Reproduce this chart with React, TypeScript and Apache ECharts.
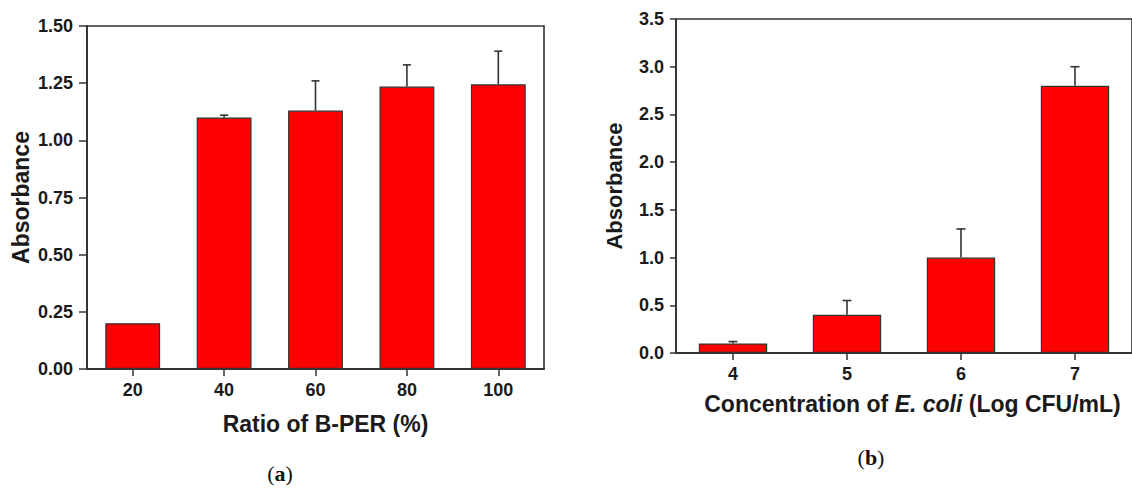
import React, { useEffect, useRef } from "react";
import * as echarts from "echarts";

const catA = ["20", "40", "60", "80", "100"];
const valA = [0.2, 1.1, 1.13, 1.235, 1.245];
const errA = [0, 0.01, 0.13, 0.095, 0.145];

const catB = ["4", "5", "6", "7"];
const valB = [0.1, 0.4, 1.0, 2.8];
const errB = [0.02, 0.15, 0.3, 0.2];

const FONT = "'Liberation Sans', Arial, sans-serif";
const AX = "#333333";
const TXT = "#1a1a1a";

function errRender(cap: number) {
  return (params: any, api: any) => {
    const i = api.value(0);
    const v = api.value(1);
    const e = api.value(2);
    if (!e) return { type: "group", children: [] };
    const base = api.coord([i, v]);
    const top = api.coord([i, v + e]);
    const style = { stroke: AX, lineWidth: 1.6 };
    return {
      type: "group",
      children: [
        { type: "line", shape: { x1: base[0], y1: base[1], x2: base[0], y2: top[1] }, style },
        { type: "line", shape: { x1: base[0] - cap / 2, y1: top[1], x2: base[0] + cap / 2, y2: top[1] }, style },
      ],
    };
  };
}

export default function App() {
  const ref = useRef<HTMLDivElement>(null);
  useEffect(() => {
    if (!ref.current) return;
    const chart = echarts.init(ref.current, undefined, { renderer: "svg" });
    const axisLine = { show: true, lineStyle: { color: AX, width: 1.8 } };
    const option: any = {
      animation: false,
      backgroundColor: "#ffffff",
      grid: [
        { left: 87, top: 26, width: 457, height: 343, show: true, borderColor: AX, borderWidth: 1.6, backgroundColor: "transparent" },
        { left: 676, top: 19, width: 459, height: 334, show: true, borderColor: AX, borderWidth: 1.6, backgroundColor: "transparent" },
      ],
      xAxis: [
        {
          type: "category",
          gridIndex: 0,
          data: catA,
          axisLine,
          axisTick: { show: true, alignWithLabel: true, length: 7, lineStyle: { color: AX, width: 1.5 } },
          axisLabel: { margin: 12, fontSize: 18, fontWeight: "bold", fontFamily: FONT, color: TXT },
          name: "Ratio of B-PER (%)",
          nameLocation: "middle",
          nameGap: 43,
          nameTextStyle: { fontSize: 23, fontWeight: "bold", fontFamily: FONT, color: TXT, padding: [0, 0, 0, 20] },
        },
        {
          type: "category",
          gridIndex: 1,
          data: catB,
          axisLine,
          axisTick: { show: true, alignWithLabel: true, length: 7, lineStyle: { color: AX, width: 1.5 } },
          axisLabel: { margin: 12, fontSize: 18, fontWeight: "bold", fontFamily: FONT, color: TXT },
          name: "Concentration of {i|E. coli} (Log CFU/mL)",
          nameLocation: "middle",
          nameGap: 39,
          nameTextStyle: {
            fontSize: 23,
            fontWeight: "bold",
            fontFamily: FONT,
            color: TXT,
            padding: [0, 0, 0, 17],
            rich: { i: { fontSize: 23, fontWeight: "bold", fontStyle: "italic", fontFamily: FONT, color: TXT } },
          },
        },
      ],
      yAxis: [
        {
          type: "value",
          gridIndex: 0,
          min: 0,
          max: 1.5,
          interval: 0.25,
          axisLine,
          splitLine: { show: false },
          axisTick: { show: true, length: 8, lineStyle: { color: AX, width: 1.5 } },
          axisLabel: { margin: 14, fontSize: 18, fontWeight: "bold", fontFamily: FONT, color: TXT, formatter: (v: number) => v.toFixed(2) },
          name: "Absorbance",
          nameLocation: "middle",
          nameGap: 55,
          nameTextStyle: { fontSize: 23, fontWeight: "bold", fontFamily: FONT, color: TXT },
        },
        {
          type: "value",
          gridIndex: 1,
          min: 0,
          max: 3.5,
          interval: 0.5,
          axisLine,
          splitLine: { show: false },
          axisTick: { show: true, length: 6, lineStyle: { color: AX, width: 1.5 } },
          axisLabel: { margin: 12, fontSize: 18, fontWeight: "bold", fontFamily: FONT, color: TXT, formatter: (v: number) => v.toFixed(1) },
          name: "Absorbance",
          nameLocation: "middle",
          nameGap: 51,
          nameTextStyle: { fontSize: 22, fontWeight: "bold", fontFamily: FONT, color: TXT },
        },
      ],
      series: [
        {
          type: "bar",
          xAxisIndex: 0,
          yAxisIndex: 0,
          data: valA,
          barWidth: "60%",
          itemStyle: { color: "#ff0000", borderColor: AX, borderWidth: 1.2 },
        },
        {
          type: "custom",
          xAxisIndex: 0,
          yAxisIndex: 0,
          data: valA.map((v, i) => [i, v, errA[i]]),
          encode: { x: 0, y: 1 },
          renderItem: errRender(8),
          z: 5,
        },
        {
          type: "bar",
          xAxisIndex: 1,
          yAxisIndex: 1,
          data: valB,
          barWidth: "60%",
          itemStyle: { color: "#ff0000", borderColor: AX, borderWidth: 1.2 },
        },
        {
          type: "custom",
          xAxisIndex: 1,
          yAxisIndex: 1,
          data: valB.map((v, i) => [i, v, errB[i]]),
          encode: { x: 0, y: 1 },
          renderItem: errRender(9),
          z: 5,
        },
      ],
      graphic: [
        {
          type: "text",
          x: 280,
          y: 473,
          style: {
            text: "({b|a})",
            font: "22px 'Liberation Serif', serif",
            fill: "#111",
            textAlign: "center",
            textVerticalAlign: "middle",
            rich: { b: { fontWeight: "bold", fontSize: 22, fontFamily: "'Liberation Serif', serif", fill: "#111" } },
          },
        },
        {
          type: "text",
          x: 871,
          y: 457,
          style: {
            text: "({b|b})",
            font: "22px 'Liberation Serif', serif",
            fill: "#111",
            textAlign: "center",
            textVerticalAlign: "middle",
            rich: { b: { fontWeight: "bold", fontSize: 22, fontFamily: "'Liberation Serif', serif", fill: "#111" } },
          },
        },
      ],
    };
    chart.setOption(option);
    return () => chart.dispose();
  }, []);
  return (
    <div
      ref={ref}
      style={{ position: "absolute", left: 0, top: 0, width: 1132, height: 488, overflow: "hidden" }}
    />
  );
}
